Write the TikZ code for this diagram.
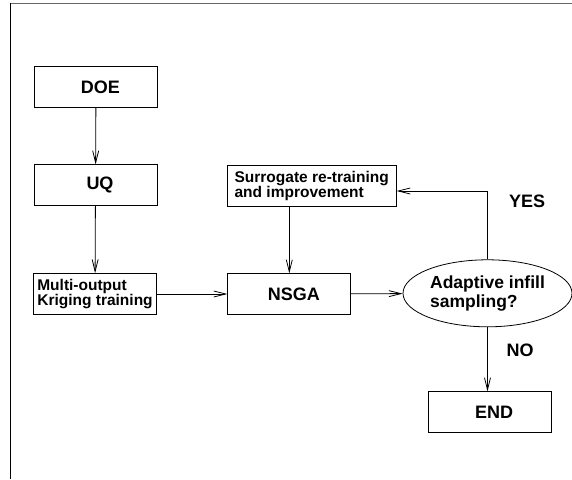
\documentclass[tikz,border=0pt]{standalone}
\usepackage{fontspec}
\setmainfont{Liberation Sans}
\usetikzlibrary{shapes.geometric,arrows.meta}
\begin{document}
\begin{tikzpicture}[x=1pt,y=-1pt,>={Straight Barb[length=12pt,width=6pt]},line width=0.8pt,
    box/.style={draw,minimum width=123pt,minimum height=40.5pt,inner sep=2pt,font=\fontsize{18}{19}\selectfont\bfseries,execute at begin node=\hspace*{9pt}},
    smallbox/.style={draw,align=left,minimum height=41pt,inner sep=2pt,font=\fontsize{15.5}{15}\selectfont\bfseries},
    ask/.style={draw,ellipse,align=left,minimum width=169pt,minimum height=67pt,inner sep=0pt,font=\fontsize{17.5}{19}\selectfont\bfseries},
    tag/.style={font=\fontsize{18}{19}\selectfont\bfseries}]
      \useasboundingbox (0,0) rectangle (572,479);
      % frame
      \draw[black!60] (10,3) -- (572,3);
      \draw (10,3) -- (10,479);
      % boxes
      \node[box] (doe) at (96,87) {DOE};
      \node[box] (uq) at (95.5,185) {UQ};
      \node[smallbox,minimum width=123pt] (krig) at (95,294) {Multi-output\\Kriging training};
      \node[box] (nsga) at (289.3,294) {NSGA};
      \node[smallbox,minimum width=169pt] (surr) at (311.7,186) {Surrogate re-training\\and improvement};
      \node[ask] (infill) at (487.5,293.3) {Adaptive infill\\sampling?};
      \node[box] (stop) at (489.7,412) {END};
      \node[tag] (yes) at (527,201.7) {YES};
      \node[tag] (no) at (520,350) {NO};
      % arrows
      \draw[->] (doe) -- (uq);
      \draw[->] (uq) -- (krig);
      \draw[->] (krig) -- (nsga);
      \draw[->] (nsga) -- (infill);
      \draw[->] (nsga.north |- surr.south) -- (nsga.north);
      \draw[->] (infill.north) |- ([yshift=-5pt]surr.east);
      \draw[->] (infill.south) -- (infill.south |- stop.north);
\end{tikzpicture}
\end{document}
